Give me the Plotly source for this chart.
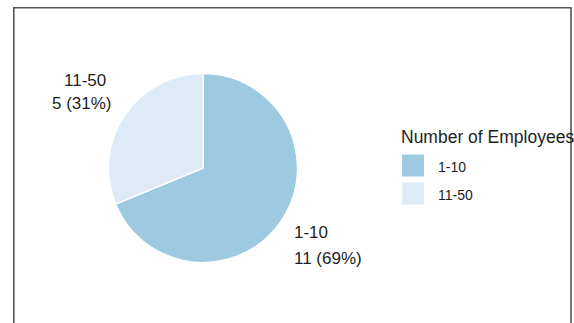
import plotly.graph_objects as go

# ---- data ----
categories = ["1-10", "11-50"]
counts = [11, 5]
colors = ["#9ecae1", "#deebf7"]
legend_title = "Number of Employees"

W, H = 574, 323
FONT = "Liberation Sans, Arial, sans-serif"
TXT = "#1e1e1e"


def px(x):
    return x / W


def py(y):
    return 1 - y / H


total = sum(counts)
pcts = [round(c / total * 100) for c in counts]

# pie geometry (pixels)
cx, cy, r = 203, 168, 94.5

fig = go.Figure(
    go.Pie(
        labels=categories,
        values=counts,
        marker=dict(colors=colors, line=dict(color="white", width=1.5)),
        sort=False,
        direction="clockwise",
        rotation=0,
        textinfo="none",
        hoverinfo="skip",
        showlegend=False,
        domain=dict(x=[px(cx - r), px(cx + r)], y=[py(cy + r), py(cy - r)]),
    )
)

annotations = []
shapes = []

# slice labels: (name pos, value pos, anchor)
label_layout = [
    dict(name=(292, 232.5), value=(292, 258.5), anchor="left"),
    dict(name=(108, 80.5), value=(113.5, 103.5), anchor="right"),
]
for cat, cnt, pct, lay in zip(categories, counts, pcts, label_layout):
    for text, pos in ((cat, lay["name"]), (f"{cnt} ({pct}%)", lay["value"])):
        annotations.append(
            dict(
                text=text, x=px(pos[0]), y=py(pos[1]), xref="paper", yref="paper",
                xanchor=lay["anchor"], yanchor="middle", showarrow=False,
                font=dict(family=FONT, size=17, color=TXT),
            )
        )

# legend (manual)
annotations.append(
    dict(
        text=legend_title, x=px(399), y=py(136.5), xref="paper", yref="paper",
        xanchor="left", yanchor="middle", showarrow=False,
        font=dict(family=FONT, size=17.5, color=TXT),
    )
)
sw, pitch, top0 = 22, 28, 165.5
for i, (cat, col) in enumerate(zip(categories, colors)):
    yc = top0 + i * pitch
    shapes.append(
        dict(
            type="rect", xref="paper", yref="paper",
            x0=px(402), x1=px(402 + sw), y0=py(yc - sw / 2), y1=py(yc + sw / 2),
            fillcolor=col, line=dict(width=0),
        )
    )
    annotations.append(
        dict(
            text=cat, x=px(436), y=py(yc + 1.5), xref="paper", yref="paper",
            xanchor="left", yanchor="middle", showarrow=False,
            font=dict(family=FONT, size=14, color=TXT),
        )
    )

# outer frame
shapes.append(
    dict(
        type="rect", xref="paper", yref="paper",
        x0=px(13.8), x1=px(571), y0=py(340), y1=py(7.8),
        line=dict(color="#555555", width=1.6), fillcolor="rgba(0,0,0,0)",
        layer="above",
    )
)

fig.update_layout(
    width=W, height=H,
    margin=dict(l=0, r=0, t=0, b=0),
    paper_bgcolor="white", plot_bgcolor="white",
    annotations=annotations, shapes=shapes,
    showlegend=False,
)

fig.write_html(
    "out.html",
    config={"displayModeBar": False},
    post_script="document.body.style.margin='0';document.body.style.overflow='hidden';",
)
